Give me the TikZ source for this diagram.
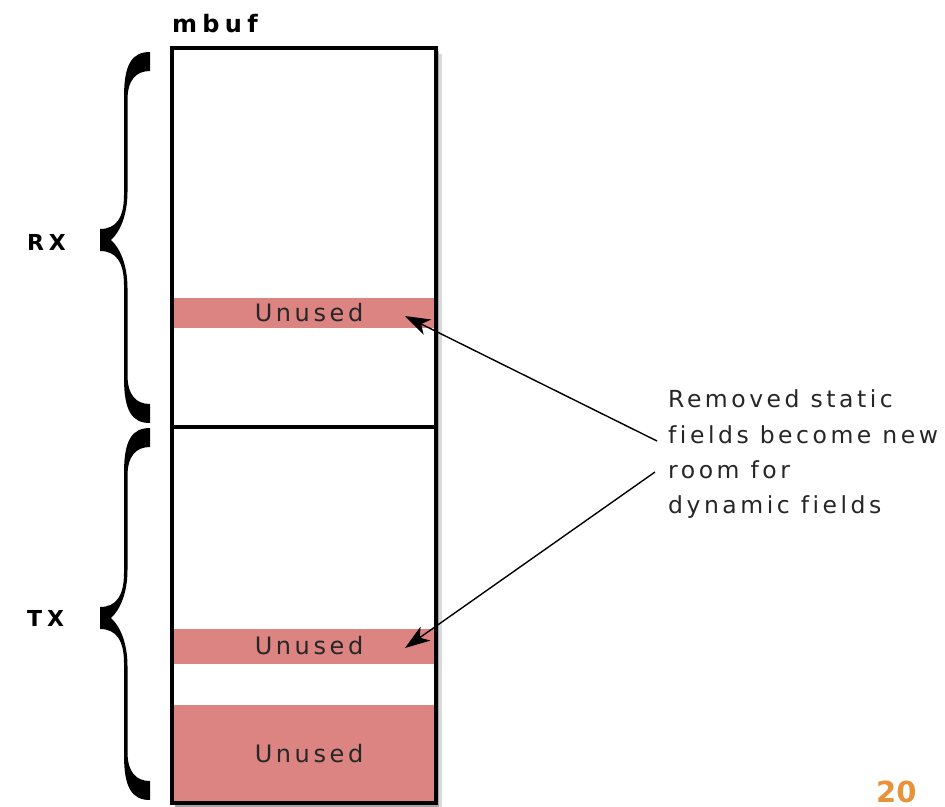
\documentclass[tikz,border=0pt]{standalone}
\usepackage{fontspec}
\setmainfont{DejaVu Sans}
\newfontfamily\spfont[LetterSpace=15,Ligatures=NoCommon]{DejaVu Sans}
\newfontfamily\spbold[LetterSpace=22,Ligatures=NoCommon]{DejaVu Sans}
\usetikzlibrary{arrows.meta}
\definecolor{unusedpink}{RGB}{220,132,130}
\definecolor{pagenum}{RGB}{232,146,58}
\newcommand{\curlybrace}[3]{%
  \fill (150,#1) .. controls (132,#1) and (124,#1+12) .. (124,#1+45)
    -- (124,#2-45) .. controls (124,#2-22) and (116,#2-11) .. (100,#2-11)
    -- (100,#2+11) .. controls (116,#2+11) and (124,#2+22) .. (124,#2+45)
    -- (124,#3-45) .. controls (124,#3-12) and (132,#3) .. (150,#3)
    -- (150,#3-19) .. controls (136,#3-19) and (127.5,#3-28) .. (127.5,#3-48)
    -- (127.5,#2+48) .. controls (127.5,#2+25) and (120,#2+8) .. (111,#2)
    .. controls (120,#2-8) and (127.5,#2-25) .. (127.5,#2-48)
    -- (127.5,#1+48) .. controls (127.5,#1+28) and (136,#1+19) .. (150,#1+19) -- cycle;}
\tikzset{
  bar/.style={fill=unusedpink, inner sep=0pt, minimum width=261pt, font=\spfont\fontsize{24}{28}\selectfont, text=black!85},
  note/.style={anchor=base west, inner sep=0pt, font=\spfont\fontsize{23.5}{28}\selectfont, text=black!85},
  side/.style={anchor=base west, inner sep=0pt, font=\spbold\bfseries\fontsize{22}{26}\selectfont},
  arr/.style={line width=1.4pt, -{Stealth[length=25pt, width=17pt, inset=7pt]}}
}
\begin{document}
\begin{tikzpicture}[x=1pt,y=-1pt]
\useasboundingbox (0,0) rectangle (945,806);
% shadow
\fill[black!15] (178,54) rectangle (442,810);
\fill[black!35] (175,51) rectangle (439,808);
\fill[white] (172,48) rectangle (436,803);
% bars
\node[bar, minimum height=30pt, text width=261pt, align=center] (u1) at (304,313) {\hspace*{10pt}Unused};
\node[bar, minimum height=35pt, text width=261pt, align=center] (u2) at (304,646) {\hspace*{10pt}Unused};
\node[bar, minimum height=98pt, text width=261pt, align=center] (u3) at (304,754) {\hspace*{10pt}Unused};
% box
\draw[line width=3.5pt] (172,48) rectangle (436,803);
\draw[line width=3.5pt] (172,427) -- (436,427);
% labels
\node[side, font=\spbold\bfseries\fontsize{24}{28}\selectfont] (mbuf) at (172,32) {mbuf};
\node[side] (rx) at (27,250) {RX};
\node[side] (tx) at (27,626) {TX};
% braces
\curlybrace{52}{240}{423}
\curlybrace{428}{618}{800}
% note text
\node[note] (l1) at (668,407) {Removed static};
\node[note] (l2) at (668,443) {fields become new};
\node[note] (l3) at (668,478) {room for};
\node[note] (l4) at (668,513) {dynamic fields};
% arrows
\coordinate (s1) at (657,441);
\coordinate (s2) at (655,472);
\coordinate (t1) at (405,316);
\coordinate (t2) at (405,648);
\draw[arr] (s1) -- (t1);
\draw[arr] (s2) -- (t2);
% page number
\node[anchor=base west, inner sep=0pt, text depth=0pt, text=pagenum, font=\bfseries\fontsize{29}{32}\selectfont] (pg) at (876,802) {20};
\end{tikzpicture}
\end{document}
